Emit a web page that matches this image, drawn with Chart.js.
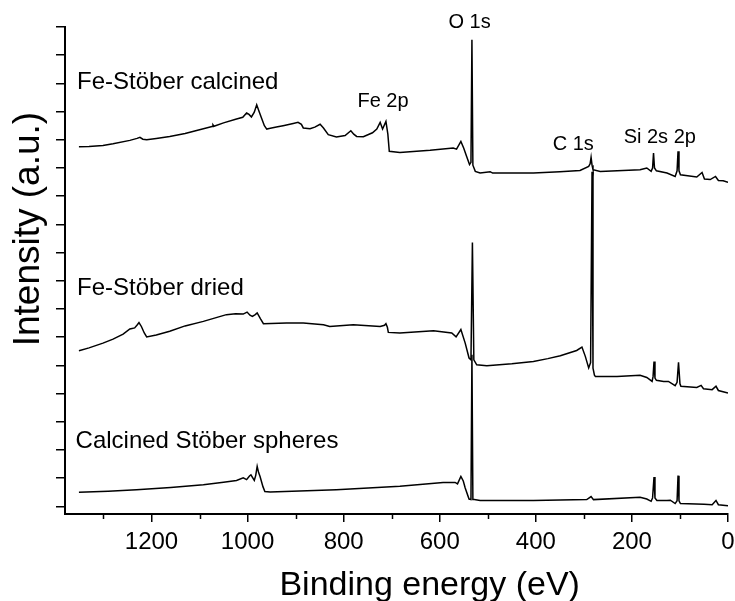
<!DOCTYPE html>
<html>
<head>
<meta charset="utf-8">
<script src="https://cdn.jsdelivr.net/npm/chart.js@4.4.0/dist/chart.umd.min.js"></script>
<style>
  html, body { margin: 0; padding: 0; background: #fff; }
  canvas { display: block; }
</style>
</head>
<body>
<canvas id="xps" width="735" height="601"></canvas>
<script>
// XPS survey spectra of the three Stöber samples (binding energy in eV, offset intensity in a.u.)
const calcinedFeE = [1351,1330,1301,1280,1245,1230,1224,1218,1210,1190,1162,1130,1106,1074,1072,1070,1050,1023,1010,1002,997,992,986,981,976,971,965,960,955,940,926,905,895,888,884,870,860,849,842,832,815,797,785,779,773,759,740,731,724,719,712,708,705,683,620,572,565,556,550,544,538,535,533,531,526,516,495,490,405,350,308,290,287,285,283,281,266,183,169,160,157,155,153,149,127,110,106,104,102,99,65,54,49,37,26,20,10,0];
const calcinedFeI = [12.75,12.76,12.80,12.86,12.98,13.05,13.09,13.02,13.00,13.05,13.12,13.22,13.33,13.47,13.53,13.48,13.60,13.74,13.80,13.95,13.90,13.81,13.98,14.24,14.00,13.77,13.50,13.38,13.40,13.45,13.50,13.58,13.62,13.55,13.42,13.39,13.45,13.55,13.42,13.18,13.10,13.15,13.32,13.20,13.12,13.11,13.25,13.38,13.62,13.38,13.65,13.20,12.59,12.55,12.63,12.71,12.67,12.94,12.70,12.41,12.12,12.20,16.55,12.10,11.88,11.82,11.87,11.82,11.82,11.87,11.91,12.06,12.15,12.38,12.10,11.94,11.88,11.94,12.00,11.88,12.00,12.53,12.00,11.90,11.82,11.70,11.90,12.59,11.90,11.76,11.68,11.84,11.61,11.59,11.70,11.56,11.55,11.49];

const driedFeE = [1351,1330,1301,1280,1259,1245,1235,1229,1226,1221,1215,1210,1190,1162,1130,1092,1060,1044,1025,1009,1001,995,990,984,980,973,967,919,884,842,829,780,724,715,712,709,707,683,613,575,566,556,547,539,535,532,529,523,502,450,405,375,349,315,304,297,290,286,283,281,278,276,231,183,169,158,156,154,152,149,134,124,110,106,103,100,98,65,56,51,33,25,20,0];
const driedFeI = [5.52,5.62,5.79,5.93,6.11,6.29,6.33,6.45,6.52,6.38,6.15,6.01,6.08,6.21,6.40,6.56,6.72,6.80,6.83,6.82,6.89,6.78,6.74,6.80,6.86,6.65,6.48,6.50,6.50,6.44,6.38,6.44,6.38,6.42,6.48,6.35,6.17,6.15,6.23,6.15,6.01,6.27,5.79,5.26,5.20,9.36,5.20,5.02,4.99,5.06,5.14,5.24,5.34,5.53,5.65,5.32,4.91,5.10,11.87,4.90,4.65,4.61,4.61,4.65,4.57,4.43,4.60,5.14,4.55,4.47,4.43,4.43,4.28,4.40,5.11,4.35,4.26,4.22,4.29,4.17,4.14,4.26,4.11,4.02];

const spheresE = [1351,1290,1231,1160,1092,1050,1023,1009,1002,996,993,986,983,980,977,974,968,964,953,815,683,593,568,563,556,551,547,539,535,533,531,528,516,405,294,285,280,183,169,160,157,154,152,148,127,120,110,106,104,102,99,50,33,25,20,0];
const spheresI = [0.50,0.54,0.59,0.67,0.77,0.86,0.92,1.01,0.95,1.08,1.12,0.92,1.10,1.42,1.20,1.06,0.70,0.53,0.51,0.59,0.71,0.85,0.85,0.80,1.06,0.90,0.65,0.26,0.24,5.38,0.24,0.24,0.21,0.21,0.24,0.35,0.24,0.32,0.26,0.18,0.30,1.04,0.30,0.21,0.21,0.22,0.10,0.20,1.09,0.20,0.10,0.08,0.06,0.21,0.06,0.02];

// Axis ticks
const xTickValues = [0, 200, 400, 600, 800, 1000, 1200];
const xMinorTickValues = [100, 300, 500, 700, 900, 1100, 1300];
const yTickValues = [0,1,2,3,4,5,6,7,8,9,10,11,12,13,14,15,16,17];

// Sample names and peak assignments, anchored in data coordinates
const sampleNames = ['Fe-Stöber calcined', 'Fe-Stöber dried', 'Calcined Stöber spheres'];
const sampleNameAnchors = [[1355, 14.80], [1355, 7.51], [1358, 2.07]];
const peakNames = ['O 1s', 'Fe 2p', 'C 1s', 'Si 2s 2p'];
const peakNameAnchors = [[538, 16.96], [718, 14.16], [322, 12.65], [142, 12.89]];

const FONT = '"Liberation Sans", Arial, Helvetica, sans-serif';

function toPoints(energies, intensities) {
  return energies.map((e, k) => ({ x: e, y: intensities[k] }));
}

function spectrum(energies, intensities) {
  return {
    data: toPoints(energies, intensities),
    borderColor: '#000',
    borderWidth: 1.5,
    pointRadius: 0,
    tension: 0,
    fill: false
  };
}

const annotate = {
  id: 'annotate',
  afterDraw(chart) {
    const { ctx, chartArea, scales } = chart;
    const xs = scales.x, ys = scales.y;
    ctx.save();
    ctx.fillStyle = '#000';
    ctx.strokeStyle = '#000';

    // minor ticks on the energy axis
    ctx.lineWidth = 1.5;
    xMinorTickValues.forEach(v => {
      const px = Math.round(xs.getPixelForValue(v)) + 0.5;
      ctx.beginPath();
      ctx.moveTo(px, chartArea.bottom);
      ctx.lineTo(px, chartArea.bottom + 5);
      ctx.stroke();
    });

    ctx.textBaseline = 'alphabetic';
    ctx.font = '24px ' + FONT;
    ctx.textAlign = 'left';
    sampleNames.forEach((t, k) => {
      const [e, v] = sampleNameAnchors[k];
      ctx.fillText(t, xs.getPixelForValue(e), ys.getPixelForValue(v));
    });

    ctx.font = '20px ' + FONT;
    ctx.textAlign = 'center';
    peakNames.forEach((t, k) => {
      const [e, v] = peakNameAnchors[k];
      ctx.fillText(t, xs.getPixelForValue(e), ys.getPixelForValue(v));
    });

    // axis titles
    const w = chartArea.right - chartArea.left;
    const h = chartArea.bottom - chartArea.top;
    ctx.font = '34px ' + FONT;
    ctx.textAlign = 'center';
    ctx.fillText('Binding energy (eV)', chartArea.left + w * 0.55, chart.height - 6);

    ctx.save();
    ctx.translate(39, chartArea.top + h * 0.415);
    ctx.rotate(-Math.PI / 2);
    ctx.font = '37px ' + FONT;
    ctx.textAlign = 'center';
    ctx.fillText('Intensity (a.u.)', 0, 0);
    ctx.restore();

    ctx.restore();
  }
};

new Chart(document.getElementById('xps'), {
  type: 'line',
  data: {
    datasets: [
      spectrum(calcinedFeE, calcinedFeI),
      spectrum(driedFeE, driedFeI),
      spectrum(spheresE, spheresI)
    ]
  },
  options: {
    responsive: false,
    animation: false,
    devicePixelRatio: 1,
    layout: { padding: { top: 27, right: 7, left: 0, bottom: 0 } },
    plugins: { legend: { display: false }, tooltip: { enabled: false } },
    scales: {
      x: {
        type: 'linear',
        reverse: true,
        min: 0,
        max: 1380,
        afterBuildTicks: s => { s.ticks = xTickValues.map(v => ({ value: v })); },
        afterFit: s => { s.height = 87; },
        ticks: {
          color: '#000',
          font: { family: FONT, size: 24 },
          padding: 6,
          maxRotation: 0,
          autoSkip: false,
          callback: v => String(v)
        },
        grid: { drawOnChartArea: false, drawTicks: true, tickLength: 8, color: '#000', lineWidth: 1.5 },
        border: { display: true, color: '#000', width: 2 }
      },
      y: {
        type: 'linear',
        min: -0.27,
        max: 17,
        afterBuildTicks: s => { s.ticks = yTickValues.map(v => ({ value: v })); },
        afterFit: s => { s.width = 65; },
        ticks: { display: false },
        grid: { drawOnChartArea: false, drawTicks: true, tickLength: 9, color: '#000', lineWidth: 1.5 },
        border: { display: true, color: '#000', width: 2 }
      }
    }
  },
  plugins: [annotate]
});
</script>
</body>
</html>
